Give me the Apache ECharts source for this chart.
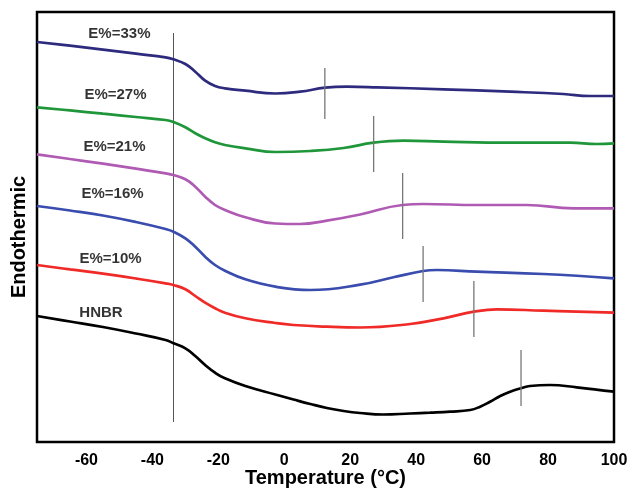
<!DOCTYPE html>
<html>
<head>
<meta charset="utf-8">
<script src="https://cdn.jsdelivr.net/npm/echarts@6/dist/echarts.min.js"></script>
<style>html,body{margin:0;padding:0;background:#fff}#c{width:632px;height:490px}</style>
</head>
<body>
<div id="c"></div>
<script>
// Temperature (°C) / heat flow (arbitrary units, endothermic up)
const xTicks = [-60, -40, -20, 0, 20, 40, 60, 80, 100];
const seriesNames = ['E%=33%', 'E%=27%', 'E%=21%', 'E%=16%', 'E%=10%', 'HNBR'];

const e33 = [[-75,400],[-65,396.3],[-55,392.4],[-45,388.3],[-36,384.7],[-33.6,382.7],[-30,378],[-27,370.3],[-24,361.3],[-21,356],[-18,353.7],[-11.8,351.3],[-2.7,348.5],[4.8,350.3],[12.4,354.3],[19,355.3],[28.1,354.7],[48.3,352.7],[68.5,350.3],[84.6,348],[92.7,346],[100,346]];
const e27 = [[-75,334.7],[-65,331.6],[-55,328.3],[-45,325],[-36,322],[-33.6,320],[-30,314.7],[-27,308.7],[-24,303.7],[-21,299.7],[-18,297],[-11.8,293.7],[-2.7,290],[7.9,291],[18,294],[27.1,299.3],[36.2,301.3],[48.3,300.3],[68.5,299.3],[86.7,299.3],[94.8,298],[100,298.7]];
const e21 = [[-75,287.7],[-65,283],[-55,278.3],[-45,273.3],[-36,268.7],[-33.6,267],[-30,262.7],[-27,255.3],[-24,245.3],[-21,237],[-18,232],[-11.8,224.7],[-2.7,218.5],[4.8,218],[12.9,221.3],[23,227.5],[35.8,237],[42.2,238],[58.4,237],[73.5,237],[87.7,233.7],[100,233.7]];
const e16 = [[-75,236],[-65,231.5],[-55,226.5],[-45,220],[-36,213],[-33.6,210.3],[-30,203.7],[-27,195.3],[-24,185.3],[-21,177],[-18,171.3],[-11.8,162.7],[-2.7,155.3],[7.9,152],[23,157.3],[33.1,164.7],[42.1,171],[46.3,172],[58.4,170.3],[78.6,168],[100,163.7]];
const e10 = [[-75,177],[-65,172.6],[-55,168.3],[-45,163.5],[-36,158.7],[-33.6,157],[-30,152.7],[-27,146],[-24,139.3],[-21,133.7],[-18,129.3],[-11.8,123.7],[-2.7,119],[2.8,117],[12.9,115.3],[23,114.5],[38.2,118],[48.3,123.7],[57.5,130.3],[64.5,132.7],[78.6,131.3],[100,129.3]];
const hnbr = [[-75,126],[-65,120.5],[-55,115],[-45,108.5],[-36,102],[-33.6,98.7],[-30,93.7],[-27,86],[-24,77],[-21,69.3],[-18,63.7],[-11.8,56],[-2.7,47.5],[2.8,42.5],[7.9,38],[12.9,34],[18,31],[23,29],[30,27.5],[38.2,28.5],[44.2,29.3],[50.3,30.3],[56.4,32],[59.4,35.3],[62.4,40.3],[65.5,46],[68.5,50.3],[72,54],[74.5,56],[80.6,57],[88.7,54.7],[100,50.3]];

// Transition marker lines: [temperature, lower, upper]
const tgLine = [-33.6, 20, 409];
const markers = [[12.3,323,374],[27.1,270,326],[35.9,203,269],[42.1,140,196],[57.5,105,161],[71.8,36,92]];
// Curve label anchor positions (data coords)
const labelPos = [[-50.0,408],[-51.2,347],[-51.5,295],[-52.1,248],[-52.7,183],[-55.6,129]];

const curves = [e33, e27, e21, e16, e10, hnbr];
const colors = ['#2E2B7E', '#1F9639', '#B05BB3', '#3A4DAE', '#EF2A27', '#000000'];

const series = curves.map((d, i) => ({
  type: 'line', name: seriesNames[i], data: d, showSymbol: false, smooth: 0.45,
  lineStyle: { color: colors[i], width: 2.7 }, silent: true, z: 3
}));
series.push({
  type: 'line', data: [[tgLine[0], tgLine[1]], [tgLine[0], tgLine[2]]], showSymbol: false,
  lineStyle: { color: '#555', width: 1 }, silent: true, z: 2
});
markers.forEach(m => series.push({
  type: 'line', data: [[m[0], m[1]], [m[0], m[2]]], showSymbol: false,
  lineStyle: { color: '#777', width: 1.3 }, silent: true, z: 4
}));
series.push({
  type: 'scatter', symbolSize: 0, silent: true,
  data: labelPos.map((p, i) => ({ value: p, name: seriesNames[i] })),
  label: { show: true, position: 'inside', formatter: p => p.name,
    fontFamily: 'Liberation Sans, Arial, sans-serif', fontWeight: 'bold', fontSize: 15, color: '#000' }
});

const chart = echarts.init(document.getElementById('c'));
chart.setOption({
  animation: false,
  grid: { left: 37, right: 18, top: 12, bottom: 48, outerBoundsMode: 'none', containLabel: false,
    show: true, borderColor: '#000', borderWidth: 2.5 },
  xAxis: {
    type: 'value', min: -75, max: 100, interval: 20,
    name: 'Temperature (°C)', nameLocation: 'middle', nameGap: 26, nameMoveOverlap: false,
    nameTextStyle: { fontFamily: 'Liberation Sans, Arial, sans-serif', fontWeight: 'bold', fontSize: 20, color: '#000' },
    axisLine: { show: false }, axisTick: { show: false }, splitLine: { show: false },
    axisLabel: {
      fontFamily: 'Liberation Sans, Arial, sans-serif', fontWeight: 'bold', fontSize: 16, color: '#000', margin: 11,
      customValues: xTicks, formatter: v => String(v)
    }
  },
  yAxis: {
    type: 'value', min: 0, max: 430,
    name: 'Endothermic', nameLocation: 'middle', nameGap: 8, nameMoveOverlap: false,
    nameTextStyle: { fontFamily: 'Liberation Sans, Arial, sans-serif', fontWeight: 'bold', fontSize: 20, color: '#000',
      padding: [0, 20, 0, 0] },
    axisLine: { show: false }, axisTick: { show: false }, splitLine: { show: false }, axisLabel: { show: false }
  },
  series: series
});
</script>
</body>
</html>
